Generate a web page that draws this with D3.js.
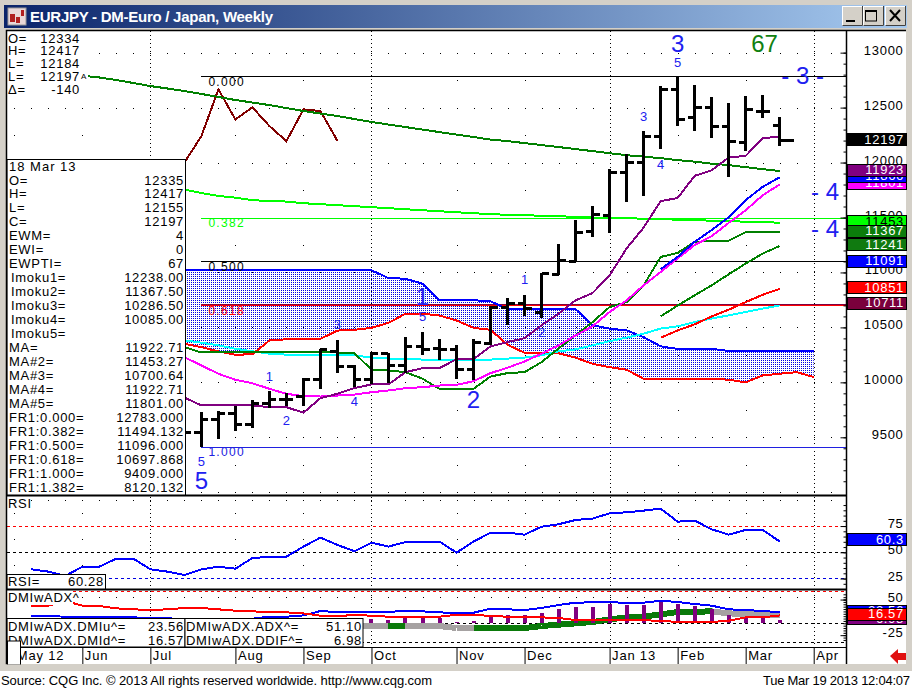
<!DOCTYPE html>
<html>
<head>
<meta charset="utf-8">
<title>EURJPY weekly</title>
<script src="https://cdn.jsdelivr.net/npm/d3@7"></script>
<style>
	html, body { margin: 0; padding: 0; background: #fff; overflow: hidden; }
	svg { display: block; }
	text { font-family: "Liberation Sans", Arial, sans-serif; }
</style>
</head>
<body>
<div id="container"></div>
<script>
'use strict';
// weekly bars, week 0 = 7 May 2012, week 45 = 18 Mar 2013
const barStart = 10;
const opens = [9700, 9540, 9660, 9720, 9617, 9805, 9844, 9871, 10029, 10284, 10145, 10024, 10266, 10154, 10327, 10306, 10297, 10116, 10357, 10685, 10716, 10634, 10983, 11102, 11373, 11521, 11906, 12000, 12233, 12665, 12411, 12502, 12332, 12180, 12469, 12335];
const highs = [9800, 9729, 9738, 9781, 9835, 9917, 9901, 10042, 10302, 10388, 10160, 10275, 10266, 10415, 10461, 10397, 10343, 10397, 10691, 10764, 10797, 10995, 11257, 11475, 11603, 11937, 12074, 12285, 12695, 12783, 12704, 12593, 12538, 12605, 12611, 12417];
const lows = [9470, 9409, 9484, 9560, 9584, 9769, 9787, 9787, 9942, 10088, 9957, 9981, 9997, 10088, 10252, 10207, 10029, 10018, 10343, 10525, 10600, 10585, 10974, 11102, 11319, 11355, 11643, 11697, 12119, 12335, 12289, 12225, 11870, 12107, 12402, 12155];
const closes = [9540, 9660, 9720, 9617, 9805, 9844, 9844, 10029, 10296, 10145, 10024, 10266, 10154, 10327, 10303, 10303, 10116, 10366, 10685, 10716, 10670, 10990, 11111, 11360, 11527, 11906, 12000, 12240, 12665, 12393, 12502, 12332, 12195, 12484, 12469, 12197];

// moving averages and Ichimoku lines
const maLong = [12790, 12774, 12751, 12724, 12696, 12674, 12651, 12624, 12597, 12569, 12546, 12523, 12496, 12469, 12446, 12423, 12396, 12369, 12346, 12323, 12300, 12277, 12254, 12232, 12209, 12195, 12177, 12159, 12141, 12123, 12104, 12085, 12067, 12054, 12040, 12022, 12008, 11990, 11977, 11958, 11940, 11923];
const maLongStart = 4;
const lagging = [12000, 12240, 12665, 12393, 12502, 12332, 12195, 12484, 12469, 12197];
const ma2 = [11754, 11723, 11696, 11681, 11657, 11651, 11645, 11630, 11621, 11612, 11603, 11594, 11585, 11575, 11566, 11557, 11548, 11539, 11530, 11525, 11521, 11516, 11512, 11505, 11500, 11494, 11494, 11489, 11485, 11480, 11476, 11471, 11467, 11462, 11457, 11453];
const conversion = [9862, 9790, 9790, 9790, 9790, 9774, 9774, 9724, 9856, 9896, 9948, 9981, 9981, 10093, 10129, 10129, 10211, 10211, 10327, 10366, 10402, 10519, 10625, 10746, 10813, 10973, 11219, 11408, 11648, 11678, 11879, 11930, 12046, 12061, 12220, 12238];
const ma5 = [10229, 10154, 10078, 10023, 9992, 9941, 9896, 9874, 9871, 9880, 9889, 9910, 9926, 9947, 9956, 9971, 9978, 10010, 10084, 10133, 10190, 10261, 10336, 10427, 10510, 10640, 10746, 10883, 11004, 11127, 11249, 11330, 11451, 11566, 11702, 11801];
const baseLine = [10320, 10272, 10272, 10272, 10272, 10272, 10272, 10272, 10272, 10272, 10265, 10115, 10108, 10093, 10033, 9941, 9941, 9941, 10053, 10084, 10093, 10184, 10309, 10427, 10549, 10685, 10730, 10883, 11141, 11178, 11279, 11285, 11288, 11367, 11367, 11367];
const ma3 = [10382, 10361, 10336, 10306, 10282, 10261, 10252, 10252, 10252, 10252, 10246, 10225, 10216, 10216, 10207, 10207, 10207, 10207, 10207, 10216, 10225, 10246, 10282, 10300, 10336, 10375, 10407, 10443, 10489, 10510, 10549, 10580, 10610, 10640, 10671, 10700];
const lineStart = 10;
const cloudTop = [11020, 11020, 11020, 11020, 11020, 11020, 11020, 11020, 11020, 11020, 11020, 11020, 10949, 10943, 10898, 10747, 10747, 10747, 10738, 10667, 10667, 10667, 10667, 10667, 10519, 10489, 10473, 10412, 10328, 10304, 10304, 10304, 10286, 10286, 10286, 10286, 10286, 10286];
const cloudBottom = [10351, 10320, 10281, 10251, 10256, 10381, 10392, 10396, 10396, 10471, 10478, 10496, 10541, 10624, 10624, 10608, 10563, 10496, 10478, 10342, 10269, 10269, 10265, 10224, 10169, 10138, 10115, 10033, 10033, 10033, 10033, 10033, 10024, 10000, 10063, 10078, 10093, 10048];
const shortStart = 38;
const maBlue = [11030, 11142, 11279, 11385, 11503, 11658, 11779, 11866];
const greenShort = [10600, 10699, 10792, 10883, 10983, 11081, 11172, 11241];
const redShort = [10406, 10472, 10528, 10600, 10661, 10730, 10797, 10851];

// Fibonacci levels
const fibLevels = [12783, 11494.132, 11096, 10697.868, 9409];
const fibNames = ['0.000', '0.382', '0.500', '0.618', '1.000'];
const fibColors = ['#000', '#00ff00', '#000', '#ff0000', '#2020e0'];
const maroonLevel = 10711;

// Elliott wave counts
const smallWaves = ['1', '2', '3', '4', '5', '1', '2', '3', '4', '5', '5'];
const smallWaveWeeks = [15, 16, 19, 20, 24, 30, 31, 37, 38, 39, 11];
const smallWavePrices = [10058, 9657, 10531, 9824, 10597, 10938, 10452, 12424, 11984, 12912, 9278];
const bigWaves = ['5', '1', '2', '3'];
const bigWaveWeeks = [11, 24, 27, 39];
const bigWavePrices = [9111, 10779, 9849, 13085];
const sideWaves = ['- 3 -', '- 4 -', '- 4 -'];
const sideWaveWeeks = [46.35, 48.1, 48.1];
const sideWavePrices = [12797, 11735, 11400];

// RSI from week 1
const rsi = [33.8, 31.6, 27.5, 36.3, 36.3, 44, 44, 33.8, 31.6, 28.4, 33.8, 36.3, 34.4, 44.6, 45.6, 45.9, 55.4, 64, 57, 51, 59.2, 55.4, 59.8, 59.8, 60.2, 49.7, 60.2, 68.7, 68.7, 66.8, 74.4, 76.7, 80.8, 82.1, 87.1, 88.1, 89.7, 91.6, 79.2, 80.2, 71.9, 66.8, 71.3, 71.3, 60.28];
const rsiLevels = [75, 50, 25];
const rsiLevelColors = ['#ff0000', '#000', '#0000e0'];

// DMI from week 1
const dmiUp = [15.3, 15.3, 13.9, 13.9, 13.9, 13.2, 12.5, 11.1, 11.1, 6.9, 6.9, 6.9, 8.3, 9.7, 13.9, 13.9, 16.7, 25.8, 23.7, 23.7, 23.7, 23.7, 26.5, 25.1, 23, 21.6, 22.3, 30.8, 29.4, 28, 32.2, 38.5, 43.4, 44.1, 44.8, 42.7, 43.4, 47.6, 44.8, 40.6, 37.1, 29.4, 28, 25.8, 23.56];
const dmiDown = [37.1, 37.1, 46.9, 37.1, 36.4, 31.5, 29.4, 28, 29.4, 32.2, 32.2, 29.4, 26.5, 25.1, 23.7, 23, 20.9, 16, 15.3, 17.4, 16, 13.9, 13.9, 13.9, 13.9, 18.1, 18.1, 15.3, 13.9, 13.9, 12.5, 11.1, 6.9, 6.9, 6.9, 6.2, 6.2, 5.5, 2.7, 2.7, 2.7, 5.5, 12.5, 12.5, 16.57];
// thick band from week 12, grey when falling back, green when rising
const adxBand = [5.5, 5.5, 5.5, 2.7, 2.7, -0.1, -2.9, -2.9, -4.3, -5.7, -5.7, -5.7, -5.7, -5.7, -10, -10, -10, -10, -10, -5.7, -2.9, -0.1, 2.7, 8.3, 12.5, 13.9, 18.8, 23.7, 24.4, 25.1, 20.9, 19.5, 18.8, 17.4];
const adxBandState = ['g', 'g', 'g', 'g', 'g', 'g', 'g', 'g', 'g', 'g', 'u', 'g', 'g', 'g', 'g', 'u', 'u', 'u', 'u', 'u', 'u', 'u', 'u', 'u', 'u', 'u', 'u', 'u', 'u', 'g', 'g', 'g', 'g'];
// DDIF histogram from week 21
const ddif = [8.4, 7, 12.6, 12.6, 11.9, 2, 4.9, 16.1, 17.5, 17.5, 22.5, 30.2, 35.1, 35.1, 40.7, 38.6, 38.6, 47.7, 40.7, 36.5, 29.5, 16.8, 14, 14.7, 6.98];

// axis ticks and labels
const priceTicks = [13000, 12500, 12000, 11500, 11000, 10500, 10000, 9500, 9000];
const priceHalfTicks = [12750, 12250, 11750, 11250, 10750, 10250, 9750, 9250];
const monthWeeks = [0, 4, 8, 13, 17, 21, 26, 30, 35, 39, 43, 47];
const monthNames = ['May 12', 'Jun', 'Jul', 'Aug', 'Sep', 'Oct', 'Nov', 'Dec', 'Jan 13', 'Feb', 'Mar', 'Apr'];
const quarterWeeks = [8, 21, 35, 47];
const rsiTicks = [75, 50, 25];
const dmiTicks = [50, -25];

// value tags on the right edge, drawn in this order
const tagValues = [12197, 11801, 11866, 11923, 11453, 11367, 11241, 11091, 10851, 10711];
const tagColors = ['#000', '#ff00ff', '#0000ff', '#800080', '#00ff00', '#0b7d0b', '#107a10', '#0000ff', '#ff0000', '#7a003c'];
const tagTextColors = ['#fff', '#fff', '#fff', '#fff', '#000', '#fff', '#fff', '#fff', '#fff', '#fff'];
const dmiTagValues = [6.98, 23.56, 16.57];
const dmiTagColors = ['#800080', '#0000ff', '#ff0000'];

// readouts
const quoteNames = ['O=', 'H=', 'L=', 'L=', 'Δ='];
const quoteValues = ['12334', '12417', '12184', '12197', '-140'];
const panelNames = ['O=', 'H=', 'L=', 'C=', 'EWM=', 'EWI=', 'EWPTI=', 'Imoku1=', 'Imoku2=', 'Imoku3=', 'Imoku4=', 'Imoku5=', 'MA=', 'MA#2=', 'MA#3=', 'MA#4=', 'MA#5=', 'FR1:0.000=', 'FR1:0.382=', 'FR1:0.500=', 'FR1:0.618=', 'FR1:1.000=', 'FR1:1.382='];
const panelValues = ['12335', '12417', '12155', '12197', '4', '0', '67', '12238.00', '11367.50', '10286.50', '10085.00', '', '11922.71', '11453.27', '10700.64', '11922.71', '11801.00', '12783.000', '11494.132', '11096.000', '10697.868', '9409.000', '8120.132'];

const options = { width: 912, height: 688, left: 7, right: 846 };

const svg = d3.select('#container').append('svg')
	.attr('width', options.width)
	.attr('height', options.height);

const x = d3.scaleLinear().domain([0, 47]).range([14.3, 813.7]);
const y = d3.scaleLinear().domain([12783, 9409]).range([76.5, 447.3]);
const yRsi = d3.scaleLinear().domain([50, 75]).range([552.3, 526.05]);
const yDmi = d3.scaleLinear().domain([0, 50]).range([623.3, 599.55]);

function series(start, values) {
	return values.map((v, i) => ({ week: start + i, value: v }));
}

const defs = svg.append('defs');
defs.append('clipPath').attr('id', 'clipMain').append('rect')
	.attr('x', 7).attr('y', 31).attr('width', 839).attr('height', 464);
defs.append('clipPath').attr('id', 'clipRsi').append('rect')
	.attr('x', 7).attr('y', 497).attr('width', 839).attr('height', 92);
defs.append('clipPath').attr('id', 'clipDmi').append('rect')
	.attr('x', 7).attr('y', 591).attr('width', 839).attr('height', 56);

let grad = defs.append('linearGradient').attr('id', 'titleGrad');
grad.append('stop').attr('offset', '0%').attr('stop-color', '#0a246a');
grad.append('stop').attr('offset', '100%').attr('stop-color', '#a6caf0');

// window frame
svg.append('rect').attr('width', 912).attr('height', 671).attr('fill', '#d4d0c8');
svg.append('rect').attr('y', 671).attr('width', 912).attr('height', 17).attr('fill', '#fff');
svg.append('rect').attr('x', 4).attr('y', 5).attr('width', 903).attr('height', 23).attr('fill', 'url(#titleGrad)');
svg.append('rect').attr('x', 7).attr('y', 31).attr('width', 899).attr('height', 633).attr('fill', '#fff');

// title icon
svg.append('rect').attr('x', 8).attr('y', 8).attr('width', 18).attr('height', 17).attr('fill', '#e8d8d8').attr('stroke', '#999');
svg.append('path').attr('d', 'M10 14h5v8h-5zM16 17h4v6h-4zM21 10h3v6h-3z').attr('fill', '#b02020');
svg.append('text').attr('x', 30).attr('y', 21.5).attr('fill', '#fff')
	.attr('font-size', 15).attr('font-weight', 'bold').attr('textLength', 243)
	.text('EURJPY - DM-Euro / Japan, Weekly');

// window buttons
[[842, 'min'], [863, 'max'], [885, 'close']].forEach((b) => {
	svg.append('rect').attr('x', b[0]).attr('y', 6).attr('width', 20).attr('height', 19)
		.attr('fill', '#d4d0c8').attr('stroke', '#fff').attr('shape-rendering', 'crispEdges');
	svg.append('path').attr('d', 'M' + (b[0] + 20.5) + ' 6v19.5h-20').attr('fill', 'none').attr('stroke', '#404040');
});
svg.append('rect').attr('x', 846).attr('y', 20).attr('width', 9).attr('height', 2).attr('fill', '#000');
svg.append('rect').attr('x', 865.5).attr('y', 11).attr('width', 11).attr('height', 10).attr('fill', 'none').attr('stroke', '#000');
svg.append('rect').attr('x', 865).attr('y', 10).attr('width', 12).attr('height', 2).attr('fill', '#000');
svg.append('path').attr('d', 'M890 10l10 11M900 10l-10 11').attr('stroke', '#000').attr('stroke-width', 2);

// dotted grid, one dot per week
const weeks = d3.range(0, 49);
function dottedRows(layer, values, scale, weekList) {
	values.forEach((v) => {
		layer.selectAll(null).data(weekList).enter().append('rect')
			.attr('x', (d) => Math.round(x(d))).attr('y', Math.round(scale(v)))
			.attr('width', 1).attr('height', 1).attr('fill', '#000');
	});
}

let gridTop = svg.append('g').attr('clip-path', 'url(#clipMain)');
dottedRows(gridTop, priceTicks, y, weeks);
dottedRows(gridTop, priceHalfTicks, y, monthWeeks.filter((d) => quarterWeeks.indexOf(d) < 0));

function quarterLines(top, bottom) {
	svg.append('g').selectAll('line').data(quarterWeeks).enter().append('line')
		.attr('x1', (d) => Math.round(x(d)) + 0.5).attr('x2', (d) => Math.round(x(d)) + 0.5)
		.attr('y1', top).attr('y2', bottom)
		.attr('stroke', '#000').attr('stroke-dasharray', '1 3');
}
quarterLines(31, 495);
quarterLines(497, 589);
quarterLines(591, 647);

// price pane
let pane = svg.append('g').attr('clip-path', 'url(#clipMain)').attr('shape-rendering', 'crispEdges');

// cloud, area used as a clip for a one pixel dot screen
let cloudData = cloudTop.map((v, i) => ({ week: lineStart + i, top: v, bottom: cloudBottom[i] }));
defs.append('clipPath').attr('id', 'clipCloud').append('path').datum(cloudData)
	.attr('d', d3.area().x((d) => x(d.week)).y0((d) => y(d.bottom)).y1((d) => y(d.top)));
let dotPath = d3.path();
d3.range(Math.floor(x(lineStart)) | 1, x(47), 2).forEach((px) => {
	d3.range(Math.floor(y(11020)) & ~1, y(10000), 2).forEach((py) => {
		dotPath.rect(px, py, 1, 1);
	});
});
pane.append('g').attr('clip-path', 'url(#clipCloud)').append('path')
	.attr('d', dotPath.toString()).attr('fill', '#0000e0');

// fib levels
pane.selectAll('.fib').data(fibLevels).enter().append('line').attr('class', 'fib')
	.attr('x1', x(11)).attr('x2', options.right)
	.attr('y1', (d) => y(d)).attr('y2', (d) => y(d))
	.attr('stroke', (d, i) => fibColors[i]);
pane.append('line').attr('x1', x(11)).attr('x2', options.right)
	.attr('y1', y(maroonLevel)).attr('y2', y(maroonLevel))
	.attr('stroke', '#800040');

function drawLine(start, values, color, width, scale, layer) {
	(layer || pane).append('path').datum(series(start, values))
		.attr('fill', 'none').attr('stroke', color).attr('stroke-width', width || 2)
		.attr('d', d3.line().x((d) => x(d.week)).y((d) => (scale || y)(d.value)));
}

drawLine(lineStart, cloudBottom, '#ff0000', 2);
drawLine(lineStart, cloudTop, '#0000ff', 2);
drawLine(lineStart, ma3, '#00ffff', 2);
drawLine(lineStart, baseLine, '#008000', 2);
drawLine(lineStart, ma2, '#00ff00', 2);
drawLine(lineStart, lagging, '#800000', 2);
drawLine(maLongStart, maLong, '#008000', 2);
drawLine(lineStart, ma5, '#ff00ff', 2);
drawLine(lineStart, conversion, '#800080', 2);
drawLine(shortStart, maBlue, '#0000ff', 2);
drawLine(shortStart, greenShort, '#008000', 2);
drawLine(shortStart, redShort, '#ff0000', 2);

// fib names
let fibText = svg.append('g').attr('clip-path', 'url(#clipMain)');
fibText.selectAll('text').data(fibNames).enter().append('text')
	.attr('x', x(11) + 7).attr('y', (d, i) => y(fibLevels[i]) + 9)
	.attr('font-size', 12).attr('letter-spacing', 1.3)
	.attr('fill', (d, i) => fibColors[i]).text((d) => d);

// OHLC bars
const bars = opens.map((o, i) => ({ week: barStart + i, open: o, high: highs[i], low: lows[i], close: closes[i] }));
let barGroup = pane.selectAll('.bar').data(bars).enter().append('g').attr('class', 'bar');
barGroup.append('line')
	.attr('x1', (d) => x(d.week)).attr('x2', (d) => x(d.week))
	.attr('y1', (d) => y(d.high)).attr('y2', (d) => y(d.low))
	.attr('stroke', '#000').attr('stroke-width', 3);
barGroup.append('line')
	.attr('x1', (d) => x(d.week) - 7).attr('x2', (d) => x(d.week))
	.attr('y1', (d) => y(d.open)).attr('y2', (d) => y(d.open))
	.attr('stroke', '#000').attr('stroke-width', 3);
barGroup.append('line')
	.attr('x1', (d) => x(d.week)).attr('x2', (d, i) => x(d.week) + (i === bars.length - 1 ? 14 : 7))
	.attr('y1', (d) => y(d.close)).attr('y2', (d) => y(d.close))
	.attr('stroke', '#000').attr('stroke-width', 3);

// wave labels
let waves = svg.append('g').attr('clip-path', 'url(#clipMain)').attr('fill', '#2020f0').attr('text-anchor', 'middle');
waves.selectAll('.small').data(smallWaves).enter().append('text').attr('class', 'small')
	.attr('x', (d, i) => x(smallWaveWeeks[i])).attr('y', (d, i) => y(smallWavePrices[i]))
	.attr('dy', '0.36em').attr('font-size', 13).text((d) => d);
waves.selectAll('.big').data(bigWaves).enter().append('text').attr('class', 'big')
	.attr('x', (d, i) => x(bigWaveWeeks[i])).attr('y', (d, i) => y(bigWavePrices[i]))
	.attr('dy', '0.36em').attr('font-size', 24).text((d) => d);
waves.selectAll('.side').data(sideWaves).enter().append('text').attr('class', 'side')
	.attr('x', (d, i) => x(sideWaveWeeks[i])).attr('y', (d, i) => y(sideWavePrices[i]))
	.attr('dy', '0.36em').attr('font-size', 24).attr('xml:space', 'preserve').text((d) => d);
svg.append('text').attr('x', 764.5).attr('y', 52).attr('text-anchor', 'middle')
	.attr('font-size', 24).attr('fill', '#108010').text('67');

// quote readout, top left
svg.append('rect').attr('x', 7).attr('y', 31).attr('width', 81).attr('height', 66).attr('fill', '#fff');
function readout(names, values, top, step, nameX, valueX) {
	let g = svg.append('g').attr('font-size', 13).attr('letter-spacing', 0.7).attr('fill', '#000');
	g.selectAll('.n').data(names).enter().append('text').attr('class', 'n')
		.attr('x', (d) => (d.indexOf('Imoku') === 0 ? nameX + 2 : nameX))
		.attr('y', (d, i) => top + i * step).text((d) => d);
	g.selectAll('.v').data(values).enter().append('text').attr('class', 'v')
		.attr('x', valueX).attr('y', (d, i) => top + i * step).attr('text-anchor', 'end').text((d) => d);
}
readout(quoteNames, quoteValues, 42.5, 12.9, 8, 80);
svg.append('text').attr('x', 81).attr('y', 79).attr('font-size', 8).text('A');

// data panel
svg.append('rect').attr('x', 7).attr('y', 159.5).attr('width', 178.5).attr('height', 336)
	.attr('fill', '#fff').attr('stroke', '#000');
svg.append('text').attr('x', 9).attr('y', 171).attr('font-size', 13).attr('letter-spacing', 1).text('18 Mar 13');
readout(panelNames, panelValues, 184.5, 13.96, 9, 184);

// RSI pane
let rsiPane = svg.append('g').attr('clip-path', 'url(#clipRsi)').attr('shape-rendering', 'crispEdges');
dottedRows(rsiPane, [100], yRsi, weeks);
dottedRows(rsiPane, [87.5, 62.5, 37.5], yRsi, monthWeeks.filter((d) => quarterWeeks.indexOf(d) < 0));
rsiPane.selectAll('.lvl').data(rsiLevels).enter().append('line').attr('class', 'lvl')
	.attr('x1', options.left).attr('x2', options.right)
	.attr('y1', (d) => yRsi(d)).attr('y2', (d) => yRsi(d))
	.attr('stroke', (d, i) => rsiLevelColors[i]).attr('stroke-dasharray', '3 3');
drawLine(1, rsi, '#0000ff', 2, yRsi, rsiPane);
svg.append('text').attr('x', 8).attr('y', 508).attr('font-size', 13).attr('letter-spacing', 0.7).text('RSI');
svg.append('rect').attr('x', 7).attr('y', 574.5).attr('width', 98.5).attr('height', 15).attr('fill', '#fff').attr('stroke', '#000');
readout(['RSI='], ['60.28'], 586, 0, 8, 104);

// DMI pane
let dmiPane = svg.append('g').attr('clip-path', 'url(#clipDmi)').attr('shape-rendering', 'crispEdges');
dottedRows(dmiPane, [55], yDmi, weeks);
dottedRows(dmiPane, [-12], yDmi, monthWeeks.filter((d) => quarterWeeks.indexOf(d) < 0));
[[68, '#ff0000'], [0, '#000'], [-40, '#000']].forEach((l) => {
	dmiPane.append('line').attr('x1', options.left).attr('x2', options.right)
		.attr('y1', yDmi(l[0])).attr('y2', yDmi(l[0]))
		.attr('stroke', l[1]).attr('stroke-dasharray', '3 3');
});
// band, one segment per week so the colour can change
dmiPane.selectAll('.band').data(adxBand.slice(1)).enter().append('line').attr('class', 'band')
	.attr('x1', (d, i) => x(12 + i)).attr('x2', (d, i) => x(13 + i))
	.attr('y1', (d, i) => yDmi(adxBand[i])).attr('y2', (d) => yDmi(d))
	.attr('stroke', (d, i) => (adxBandState[i] === 'u' ? '#0a7a0a' : '#a6a2a2'))
	.attr('stroke-width', 6);
dmiPane.selectAll('.hist').data(ddif).enter().append('rect').attr('class', 'hist')
	.attr('x', (d, i) => x(21 + i) - 2).attr('width', 4)
	.attr('y', (d) => yDmi(d)).attr('height', (d) => yDmi(0) - yDmi(d))
	.attr('fill', '#800080');
drawLine(1, dmiUp, '#0000ff', 2, yDmi, dmiPane);
drawLine(1, dmiDown, '#ff0000', 2, yDmi, dmiPane);
svg.append('rect').attr('x', 7).attr('y', 591).attr('width', 66).attr('height', 14).attr('fill', '#fff');
svg.append('text').attr('x', 8).attr('y', 602).attr('font-size', 13).attr('letter-spacing', 0.7).text('DMIwADX^');

svg.append('rect').attr('x', 7).attr('y', 618.5).attr('width', 178).attr('height', 28.5).attr('fill', '#fff').attr('stroke', '#000');
svg.append('rect').attr('x', 185).attr('y', 618.5).attr('width', 178).attr('height', 28.5).attr('fill', '#fff').attr('stroke', '#000');
readout(['DMIwADX.DMIu^=', 'DMIwADX.DMId^='], ['23.56', '16.57'], 630.5, 14, 8, 184);
readout(['DMIwADX.ADX^=', 'DMIwADX.DDIF^='], ['51.10', '6.98'], 630.5, 14, 186, 362);

// pane separators
svg.append('line').attr('x1', 7).attr('x2', 846).attr('y1', 495.5).attr('y2', 495.5).attr('stroke', '#000').attr('stroke-width', 2);
svg.append('line').attr('x1', 7).attr('x2', 846).attr('y1', 589.5).attr('y2', 589.5).attr('stroke', '#000').attr('stroke-width', 2);
svg.append('path').attr('d', 'M6.5 664.5V30.5H906').attr('fill', 'none').attr('stroke', '#000').attr('stroke-width', 1.5);

// right axes
function rightAxis(scale, major, minor, fmt) {
	let small = svg.append('g').attr('transform', 'translate(846.5,0)')
		.call(d3.axisRight(scale).tickValues(minor).tickSize(-3).tickFormat(''));
	small.select('.domain').remove();
	let big = svg.append('g').attr('transform', 'translate(846.5,0)')
		.call(d3.axisRight(scale).tickValues(major).tickSize(-6).tickFormat(fmt));
	big.select('.domain').remove();
	big.selectAll('text').attr('x', 57).attr('text-anchor', 'end').attr('dy', '0')
		.attr('y', 1.5)
		.attr('font-size', 13).attr('letter-spacing', 0.7)
		.attr('font-family', '"Liberation Sans", Arial, sans-serif');
	return big;
}
rightAxis(y, priceTicks.slice(0, 8), d3.range(9100, 13100, 100), (d) => d);
rightAxis(yRsi, rsiTicks, d3.range(5, 100, 5), (d) => d);
rightAxis(yDmi, dmiTicks, d3.range(-35, 60, 5), (d) => d);
svg.append('line').attr('x1', 846.5).attr('x2', 846.5).attr('y1', 31).attr('y2', 664).attr('stroke', '#000').attr('stroke-width', 1.5);

// month axis
svg.append('line').attr('x1', 7).attr('x2', 846).attr('y1', 647.5).attr('y2', 647.5).attr('stroke', '#000');
let monthAxis = svg.append('g').attr('transform', 'translate(0,647)')
	.call(d3.axisBottom(x).tickValues(monthWeeks).tickSize(17).tickFormat((d, i) => monthNames[i]));
monthAxis.select('.domain').remove();
monthAxis.selectAll('text').attr('text-anchor', 'start').attr('x', 2).attr('y', 13).attr('dy', 0)
	.attr('font-size', 13).attr('letter-spacing', 0.8)
	.attr('font-family', '"Liberation Sans", Arial, sans-serif');
svg.append('rect').attr('x', 7.5).attr('y', 641).attr('width', 13).attr('height', 24).attr('fill', '#fff').attr('stroke', '#000');

// right edge value tags
function tags(values, colors, textColors, scale, fmt, offset, height) {
	let g = svg.selectAll(null).data(values).enter().append('g');
	g.append('rect').attr('x', 847).attr('width', 59).attr('height', height)
		.attr('y', (d) => Math.round(scale(d) + offset - height / 2))
		.attr('fill', (d, i) => colors[i]).attr('stroke', '#000').attr('shape-rendering', 'crispEdges');
	g.append('text').attr('x', 904).attr('text-anchor', 'end')
		.attr('y', (d) => scale(d) + offset + 4.5)
		.attr('font-size', 13).attr('letter-spacing', 0.7)
		.attr('fill', (d, i) => (textColors ? textColors[i] : '#fff')).text(fmt);
}
tags(tagValues, tagColors, tagTextColors, y, (d) => d, -1.5, 12);
tags([60.28], ['#0000ff'], null, yRsi, () => '60.3', -2.2, 12);
tags(dmiTagValues, dmiTagColors, null, yDmi, (d) => d, -1.5, 12);

// scroll arrow
svg.append('path').attr('d', 'M890 656l8 -7v4h8v7h-8v4z').attr('fill', '#e01010');

// footer
svg.append('rect').attr('x', 0).attr('y', 664.5).attr('width', 912).attr('height', 6).attr('fill', '#d4d0c8');
svg.append('text').attr('x', 1).attr('y', 684.5).attr('font-size', 13)
	.attr('textLength', 431).text('Source: CQG Inc. © 2013 All rights reserved worldwide. http://www.cqg.com');
svg.append('text').attr('x', 763).attr('y', 684.5).attr('font-size', 13).attr('textLength', 147)
	.text('Tue Mar 19 2013 12:04:07');
</script>
</body>
</html>
